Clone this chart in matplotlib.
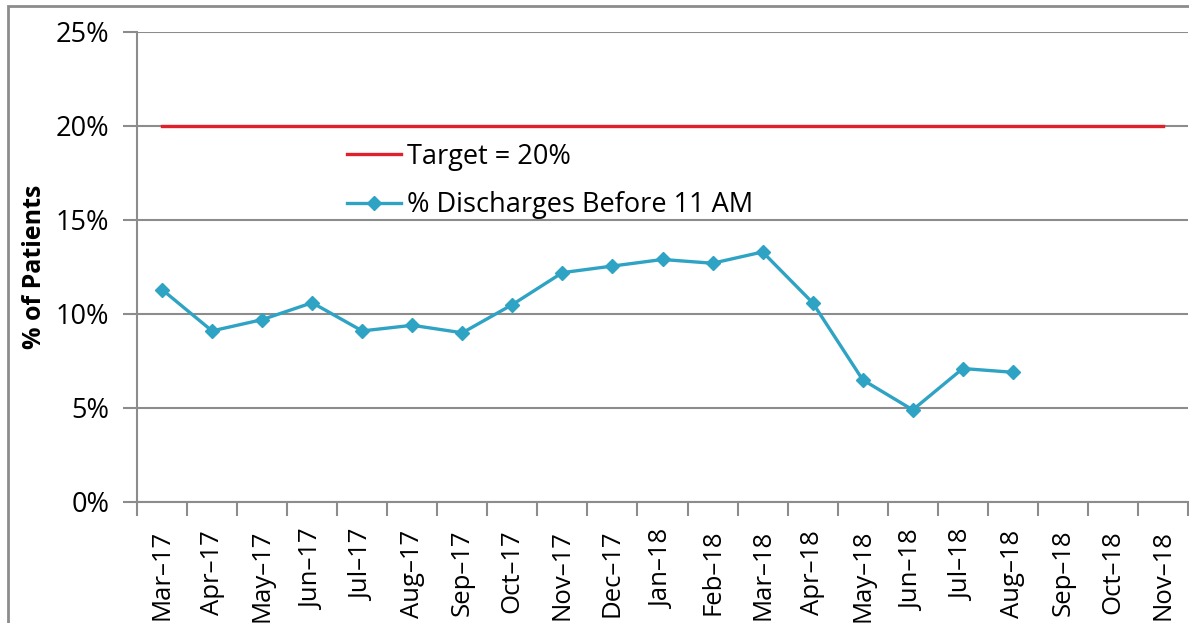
import matplotlib
matplotlib.use("Agg")
import matplotlib.pyplot as plt
from matplotlib.patches import Rectangle
from matplotlib.ticker import FixedLocator, PercentFormatter

months = ["Mar–17", "Apr–17", "May–17", "Jun–17", "Jul–17", "Aug–17", "Sep–17",
          "Oct–17", "Nov–17", "Dec–17", "Jan–18", "Feb–18", "Mar–18", "Apr–18",
          "May–18", "Jun–18", "Jul–18", "Aug–18", "Sep–18", "Oct–18", "Nov–18"]
discharges = [11.3, 9.1, 9.7, 10.6, 9.1, 9.4, 9.0, 10.5, 12.2, 12.55, 12.9,
              12.7, 13.3, 10.6, 6.5, 4.9, 7.1, 6.9]
target = 20

plt.rcParams['font.family'] = ['Open Sans', 'DejaVu Sans']

fig = plt.figure(figsize=(11.89, 6.23), dpi=100)
ax = fig.add_axes([137 / 1189, 121 / 623, 1051 / 1189, 470 / 623])

grey = "#8c8c8c"
x_all = list(range(len(months)))
ax.plot(x_all, [target] * len(months), color="#e0202a", lw=2.4,
        label="Target = 20%", zorder=3)
ax.plot(range(len(discharges)), discharges, color="#2ea3c4", lw=2.4,
        marker="D", markersize=7, label="% Discharges Before 11 AM", zorder=4)

ax.set_xlim(-0.5, len(months) - 0.5)
ax.set_ylim(0, 25)
ax.set_yticks([0, 5, 10, 15, 20, 25])
ax.yaxis.set_major_formatter(PercentFormatter(decimals=0))
ax.grid(axis="y", color=grey, lw=1.5)
ax.set_axisbelow(True)

# category boundaries as ticks, labels in the middle
ax.xaxis.set_major_locator(FixedLocator([i - 0.5 for i in range(len(months) + 1)]))
ax.xaxis.set_major_formatter(plt.NullFormatter())
ax.xaxis.set_minor_locator(FixedLocator(x_all))
ax.set_xticklabels(months, minor=True, rotation=90, fontsize=18.5)
ax.tick_params(axis="x", which="major", length=10, color=grey, width=1.5)
ax.tick_params(axis="x", which="minor", length=0, pad=20)
ax.tick_params(axis="y", length=10, color=grey, width=1.5, labelsize=19.5, pad=10)

for side in ["top", "right"]:
    ax.spines[side].set_visible(False)
for side in ["left", "bottom"]:
    ax.spines[side].set_color(grey)
    ax.spines[side].set_linewidth(1.5)

ax.set_ylabel("% of Patients", fontsize=18, fontweight="bold", labelpad=6)

ax.legend(loc="center left", bbox_to_anchor=(0.2, 0.683), frameon=False,
          fontsize=19.5, handlelength=2.0, handletextpad=0.2, labelspacing=0.75,
          borderpad=0, borderaxespad=0)

fig.patches.append(Rectangle((8 / 1189, -0.1), 1.1, 1.1 - 6 / 623,
                             transform=fig.transFigure, fill=False,
                             edgecolor=grey, lw=2, clip_on=False))

fig.savefig("out.png", dpi=100)
